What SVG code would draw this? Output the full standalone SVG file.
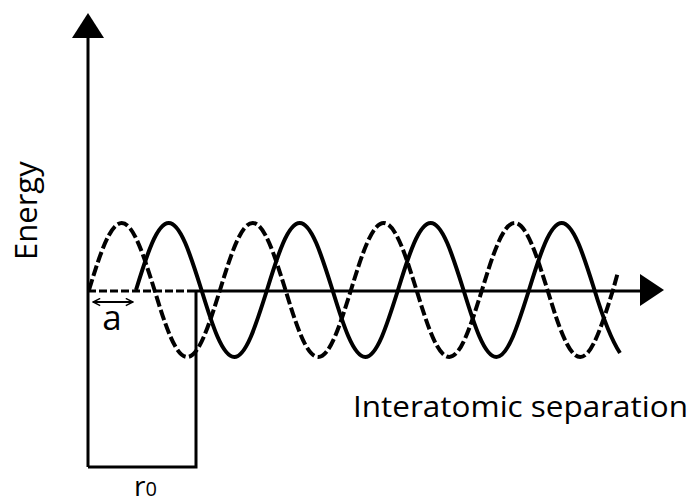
<svg xmlns="http://www.w3.org/2000/svg" width="696" height="504" viewBox="0 0 696 504">
<style>
.ax{stroke:#000;stroke-width:3;fill:none}
.wave{stroke:#000;stroke-width:4;fill:none;stroke-linecap:butt}
.dash{stroke-dasharray:11 3.5}
.lbl{font-family:"Open Sans","Liberation Sans",sans-serif;fill:#000;font-weight:500}
</style>
<defs>
<marker id="chev" viewBox="0 0 10 10" refX="9" refY="5" markerWidth="9" markerHeight="9" markerUnits="userSpaceOnUse" orient="auto-start-reverse">
<path d="M1,1 L9,5 L1,9" fill="none" stroke="#000" stroke-width="1.6"/>
</marker>
</defs>
<g id="axes">
<line class="ax" x1="88" y1="36" x2="88" y2="467"/>
<polygon points="88,13 72,38 104,38" fill="#000"/>
<line class="ax" x1="88" y1="291" x2="195" y2="291" stroke-dasharray="8 3"/>
<line class="ax" x1="195" y1="291" x2="642" y2="291"/>
<polygon points="664,290 640,274 640,306" fill="#000"/>
</g>
<g id="r0-box">
<polyline class="ax" points="88,467 196,467 196,291"/>
</g>
<g id="dashed-wave">
<path class="wave dash" d="M89,290 c 10.68,-34.84 20.90,-67 32.75,-67 c 11.85,0 22.07,33.16 32.75,67 c 10.68,34.84 20.90,67 32.75,67 c 11.85,0 22.07,-33.16 32.75,-67 c 10.68,-34.84 20.90,-67 32.75,-67 c 11.85,0 22.07,33.16 32.75,67 c 10.68,34.84 20.90,67 32.75,67 c 11.85,0 22.07,-33.16 32.75,-67 c 10.68,-34.84 20.90,-67 32.75,-67 c 11.85,0 22.07,33.16 32.75,67 c 10.68,34.84 20.90,67 32.75,67 c 11.85,0 22.07,-33.16 32.75,-67 c 10.68,-34.84 20.90,-67 32.75,-67 c 11.85,0 22.07,33.16 32.75,67 c 10.68,34.84 20.90,67 32.75,67 c 11.85,0 22.07,-33.16 32.75,-67 l 5,-18"/>
</g>
<g id="solid-wave">
<path class="wave" d="M136,290 c 10.68,-34.84 20.90,-67 32.75,-67 c 11.85,0 22.07,33.16 32.75,67 c 10.68,34.84 20.90,67 32.75,67 c 11.85,0 22.07,-33.16 32.75,-67 c 10.68,-34.84 20.90,-67 32.75,-67 c 11.85,0 22.07,33.16 32.75,67 c 10.68,34.84 20.90,67 32.75,67 c 11.85,0 22.07,-33.16 32.75,-67 c 10.68,-34.84 20.90,-67 32.75,-67 c 11.85,0 22.07,33.16 32.75,67 c 10.68,34.84 20.90,67 32.75,67 c 11.85,0 22.07,-33.16 32.75,-67 c 10.68,-34.84 20.90,-67 32.75,-67 c 11.85,0 22.07,33.16 32.75,67 c 8.5,28 17,50 25.5,63"/>
</g>
<g id="a-marker">
<line x1="93" y1="302" x2="133" y2="302" stroke="#000" stroke-width="2" marker-start="url(#chev)" marker-end="url(#chev)"/>
<text class="lbl" x="112" y="330" font-size="35" text-anchor="middle">a</text>
</g>
<g id="labels">
<text class="lbl" transform="translate(37,260) rotate(-90)" font-size="31">Energy</text>
<text class="lbl" x="353" y="417" font-size="30" textLength="335" lengthAdjust="spacingAndGlyphs">Interatomic separation</text>
<text class="lbl" x="134" y="496" font-size="28">r<tspan font-size="20">0</tspan></text>
</g>
</svg>
